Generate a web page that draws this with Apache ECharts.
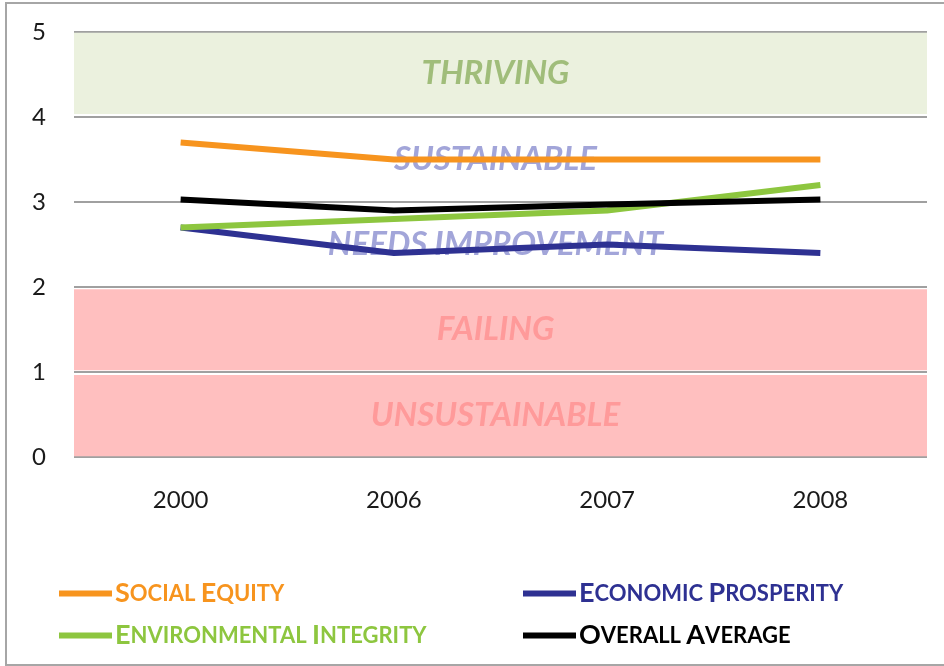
<!DOCTYPE html>
<html>
<head>
<meta charset="utf-8">
<script src="https://cdn.jsdelivr.net/npm/echarts@6/dist/echarts.min.js"></script>
<style>html,body{margin:0;padding:0;background:#fff;}#c{width:944px;height:666px;}</style>
</head>
<body>
<div id="c"></div>
<script>
var categories = ['2000', '2006', '2007', '2008'];
var socialEquity = [3.7, 3.5, 3.5, 3.5];
var economicProsperity = [2.7, 2.4, 2.5, 2.4];
var environmentalIntegrity = [2.7, 2.8, 2.9, 3.2];
var overallAverage = [3.03, 2.9, 2.97, 3.03];
var yTicks = [0, 1, 2, 3, 4, 5];
var bandNames = ['THRIVING', 'SUSTAINABLE', 'NEEDS IMPROVEMENT', 'FAILING', 'UNSUSTAINABLE'];
var bandRanges = [[4.035, 4.99], [3, 4], [2, 3], [1.02, 1.975], [0.01, 0.965]];

var seriesNames = ['Social Equity', 'Economic Prosperity', 'Environmental Integrity', 'Overall Average'];
var seriesColors = ['#f7941e', '#2e3192', '#8dc63f', '#000000'];
var seriesData = [socialEquity, economicProsperity, environmentalIntegrity, overallAverage];

var bandFill = ['#ebf1de', 'rgba(0,0,0,0)', 'rgba(0,0,0,0)', '#ffbfbf', '#ffbfbf'];
var bandText = ['#a0bd7a', 'rgba(136,140,206,0.78)', 'rgba(136,140,206,0.78)', '#ff9a9a', '#ff9a9a'];

function smallCaps(name) {
  return name.split(' ').map(function (w) {
    return '{a|' + w.charAt(0).toUpperCase() + '}{b|' + w.slice(1).toUpperCase() + '}';
  }).join('{b| }');
}

var chart = echarts.init(document.getElementById('c'), null, {renderer: 'canvas'});

var series = seriesNames.map(function (n, i) {
  return {
    name: n,
    type: 'line',
    data: seriesData[i],
    symbol: 'none',
    z: 3,
    lineStyle: {color: seriesColors[i], width: 6, cap: 'butt'},
    itemStyle: {color: seriesColors[i]}
  };
});

series.push({
  name: 'bands',
  type: 'line',
  data: [],
  z: 6,
  silent: true,
  markArea: {
    silent: true,
    data: bandNames.map(function (b, i) {
      return [
        {name: b, yAxis: bandRanges[i][0], itemStyle: {color: bandFill[i]},
         label: {color: bandText[i]}},
        {yAxis: bandRanges[i][1]}
      ];
    }),
    label: {
      show: true,
      position: 'inside',
      fontFamily: 'Lato',
      fontStyle: 'italic',
      fontWeight: 'bold',
      fontSize: 33,
      offset: [-5, 0]
    }
  }
});

function legendFor(names, left) {
  return {
    orient: 'vertical',
    left: left,
    top: 580,
    padding: 0,
    itemGap: 15,
    icon: 'rect',
    itemWidth: 53,
    itemHeight: 6,
    selectedMode: false,
    formatter: smallCaps,
    data: names.map(function (n) {
      var i = seriesNames.indexOf(n);
      return {name: n, textStyle: {color: seriesColors[i]}};
    }),
    textStyle: {
      fontFamily: 'Lato',
      padding: [0, 0, 0, -2],
      rich: {
        a: {fontSize: 27, fontFamily: 'Lato', fontWeight: 'bold', lineHeight: 24},
        b: {fontSize: 22, fontFamily: 'Lato', fontWeight: 'bold', lineHeight: 24}
      }
    }
  };
}

chart.setOption({
  animation: false,
  backgroundColor: '#ffffff',
  grid: {left: 74, right: 17, top: 32, bottom: 209, containLabel: false},
  graphic: [{
    type: 'rect',
    shape: {x: 6, y: 3, width: 1000, height: 662},
    style: {fill: 'none', stroke: '#a6a6a6', lineWidth: 2},
    silent: true,
    z: 100
  }],
  legend: [
    legendFor(['Social Equity', 'Environmental Integrity'], 59),
    legendFor(['Economic Prosperity', 'Overall Average'], 523)
  ],
  xAxis: {
    type: 'category',
    data: categories,
    boundaryGap: true,
    axisLine: {show: false},
    axisTick: {show: false},
    axisLabel: {fontFamily: 'Lato', fontSize: 24, color: '#1a1a1a', margin: 31}
  },
  yAxis: {
    type: 'value',
    min: yTicks[0],
    max: yTicks[yTicks.length - 1],
    interval: 1,
    axisLine: {show: false},
    axisTick: {show: false},
    axisLabel: {fontFamily: 'Lato', fontSize: 24, color: '#1a1a1a', margin: 28},
    splitLine: {lineStyle: {color: '#a0a0a0', width: 2}}
  },
  series: series
});
</script>
</body>
</html>
